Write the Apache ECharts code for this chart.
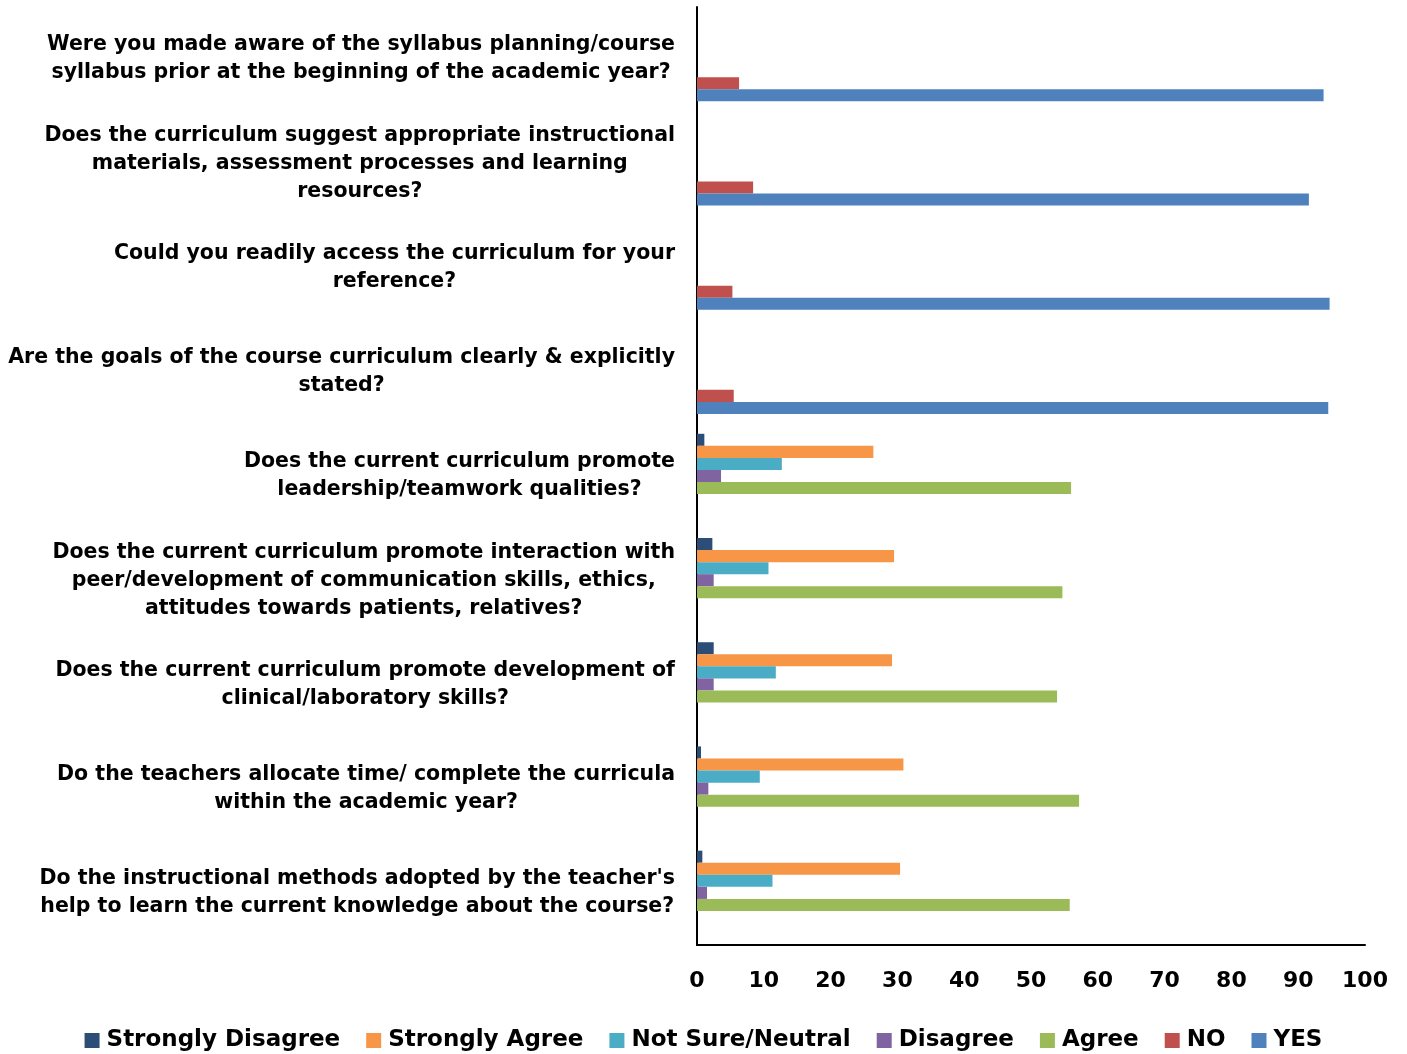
<!DOCTYPE html>
<html>
<head>
<meta charset="utf-8">
<script src="https://cdn.jsdelivr.net/npm/echarts@6/dist/echarts.min.js"></script>
<style>
html,body{margin:0;padding:0;background:#fff;}
#chart{width:1407px;height:1054px;}
</style>
</head>
<body>
<div id="chart"></div>
<script>
const categories = [
  "Were you made aware of the syllabus planning/course\nsyllabus prior at the beginning of the academic year?",
  "Does the curriculum suggest appropriate instructional\nmaterials, assessment processes and learning\nresources?",
  "Could you readily access the curriculum for your\nreference?",
  "Are the goals of the course curriculum clearly & explicitly\nstated?",
  "Does the current curriculum promote\nleadership/teamwork qualities?",
  "Does the current curriculum promote interaction with\npeer/development of communication skills, ethics,\nattitudes towards patients, relatives?",
  "Does the current curriculum promote development of\nclinical/laboratory skills?",
  "Do the teachers allocate time/ complete the curricula\nwithin the academic year?",
  "Do the instructional methods adopted by the teacher's\nhelp to learn the current knowledge about the course?"
];
const stronglyDisagree = [null, null, null, null, 1.1, 2.3, 2.5, 0.6, 0.8];
const stronglyAgree    = [null, null, null, null, 26.4, 29.5, 29.2, 30.9, 30.4];
const notSure          = [null, null, null, null, 12.7, 10.7, 11.8, 9.4, 11.3];
const disagree         = [null, null, null, null, 3.6, 2.5, 2.5, 1.7, 1.5];
const agree            = [null, null, null, null, 56.0, 54.7, 53.9, 57.2, 55.8];
const no               = [6.3, 8.4, 5.3, 5.5, null, null, null, null, null];
const yes              = [93.8, 91.6, 94.7, 94.5, null, null, null, null, null];
const seriesNames = ["Strongly Disagree", "Strongly Agree", "Not Sure/Neutral", "Disagree", "Agree", "NO", "YES"];
const xTicks = [0, 10, 20, 30, 40, 50, 60, 70, 80, 90, 100];

const colors = ["#2C4D75", "#F79646", "#4BACC6", "#8064A2", "#9BBB59", "#C0504D", "#4F81BD"];
const dataSets = [stronglyDisagree, stronglyAgree, notSure, disagree, agree, no, yes];
const FONT = "'DejaVu Sans', Verdana, sans-serif";

const chart = echarts.init(document.getElementById('chart'));
chart.setOption({
  animation: false,
  textStyle: { fontFamily: FONT },
  grid: { left: 697, right: 42, top: 7, bottom: 109, containLabel: false },
  legend: {
    top: 1024,
    left: 'center',
    icon: 'rect',
    itemWidth: 15,
    itemHeight: 15,
    itemGap: 26,
    textStyle: { fontFamily: FONT, fontWeight: 'bold', fontSize: 23, color: '#000', padding: [0, 0, 0, 2] },
    data: seriesNames
  },
  xAxis: {
    type: 'value',
    min: xTicks[0],
    max: xTicks[xTicks.length - 1],
    interval: 10,
    axisLine: { show: true, lineStyle: { color: '#000', width: 2 } },
    axisTick: { show: false },
    splitLine: { show: false },
    axisLabel: { margin: 25, fontFamily: FONT, fontWeight: 'bold', fontSize: 22, color: '#000' }
  },
  yAxis: {
    type: 'category',
    inverse: true,
    data: categories,
    axisLine: { show: true, lineStyle: { color: '#000', width: 2 } },
    axisTick: { show: false },
    axisLabel: {
      margin: 22,
      align: 'right',
      color: '#000',
      formatter: function (v) {
        return v.split('\n').map(function (l) { return '{c|' + l + '}'; }).join('\n');
      },
      rich: {
        c: { align: 'center', fontFamily: FONT, fontWeight: 'bold', fontSize: 20.5, lineHeight: 28, color: '#000' }
      }
    }
  },
  series: seriesNames.map(function (name, i) {
    return {
      name: name,
      type: 'bar',
      data: dataSets[i],
      barGap: '0%',
      barCategoryGap: '19%',
      itemStyle: { color: colors[i] }
    };
  })
});
</script>
</body>
</html>
